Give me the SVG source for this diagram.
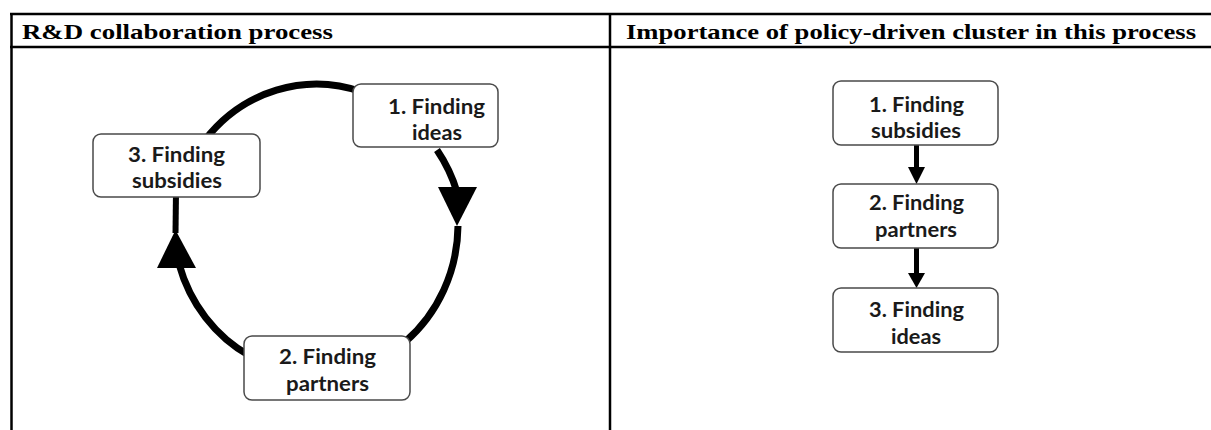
<svg xmlns="http://www.w3.org/2000/svg" width="1211" height="430" viewBox="0 0 1211 430">
<style>
.rule{stroke:#000;stroke-width:2.5;fill:none}
.hdr{font-family:"Liberation Serif","Times New Roman",serif;font-weight:bold;font-size:21.5px;fill:#000}
.box{fill:#fff;stroke:#4a4a4a;stroke-width:1.5}
.lbl{font-family:Lato,"Open Sans",sans-serif;font-weight:bold;font-size:20px;fill:#1a1a1a;text-anchor:middle}
.arc{fill:none;stroke:#000;stroke-width:7}
.stub{stroke:#000;stroke-width:6}
.shaft{stroke:#000;stroke-width:5}
.head{fill:#000}
</style>
<rect width="1211" height="430" fill="#fff"/>
<g id="table">
<line class="rule" x1="10" y1="14" x2="1211" y2="14"/>
<line class="rule" x1="10" y1="47" x2="1211" y2="47"/>
<line class="rule" x1="11.5" y1="13" x2="11.5" y2="430"/>
<line class="rule" x1="610" y1="13" x2="610" y2="430"/>
<text class="hdr" x="22" y="38.5" textLength="311" lengthAdjust="spacingAndGlyphs">R&amp;D collaboration process</text>
<text class="hdr" x="626" y="38.5" textLength="570" lengthAdjust="spacingAndGlyphs">Importance of policy-driven cluster in this process</text>
</g>
<g id="connectors">
<path class="arc" d="M205,140 A144,152 0 0 1 362,92"/>
<path class="arc" d="M437,150 A144,152 0 0 1 457,192"/>
<polygon class="head" points="438,187 477,187 457,226"/>
<path class="arc" d="M458,226 A144,152 0 0 1 405,342"/>
<path class="arc" d="M250,356 A144,152 0 0 1 179,264"/>
<polygon class="head" points="157,268 196,268 175.5,230"/>
<line class="stub" x1="175.5" y1="233" x2="176" y2="192"/>
<line class="shaft" x1="916.5" y1="145" x2="916.5" y2="169"/>
<polygon class="head" points="908,167 925,167 916.5,184"/>
<line class="shaft" x1="916.5" y1="248" x2="916.5" y2="275"/>
<polygon class="head" points="908,273 925,273 916.5,288"/>
</g>
<g id="cycle-ideas">
<rect class="box" x="353" y="84" width="145" height="63" rx="8"/>
<text class="lbl" x="436.5" y="114" textLength="97" lengthAdjust="spacingAndGlyphs">1. Finding</text>
<text class="lbl" x="437" y="140" textLength="50" lengthAdjust="spacingAndGlyphs">ideas</text>
</g>
<g id="cycle-partners">
<rect class="box" x="244" y="336" width="166" height="64" rx="8"/>
<text class="lbl" x="327.5" y="364" textLength="97" lengthAdjust="spacingAndGlyphs">2. Finding</text>
<text class="lbl" x="327.5" y="391" textLength="83" lengthAdjust="spacingAndGlyphs">partners</text>
</g>
<g id="cycle-subsidies">
<rect class="box" x="93" y="134" width="167" height="63" rx="8"/>
<text class="lbl" x="176.5" y="162" textLength="97" lengthAdjust="spacingAndGlyphs">3. Finding</text>
<text class="lbl" x="177" y="188" textLength="90" lengthAdjust="spacingAndGlyphs">subsidies</text>
</g>
<g id="flow-subsidies">
<rect class="box" x="833" y="81" width="165" height="64" rx="8"/>
<text class="lbl" x="916.5" y="112" textLength="95" lengthAdjust="spacingAndGlyphs">1. Finding</text>
<text class="lbl" x="916" y="138" textLength="90" lengthAdjust="spacingAndGlyphs">subsidies</text>
</g>
<g id="flow-partners">
<rect class="box" x="833" y="184" width="165" height="64" rx="8"/>
<text class="lbl" x="916.5" y="210" textLength="95" lengthAdjust="spacingAndGlyphs">2. Finding</text>
<text class="lbl" x="916" y="237" textLength="82" lengthAdjust="spacingAndGlyphs">partners</text>
</g>
<g id="flow-ideas">
<rect class="box" x="833" y="288" width="165" height="64" rx="8"/>
<text class="lbl" x="916.5" y="317" textLength="95" lengthAdjust="spacingAndGlyphs">3. Finding</text>
<text class="lbl" x="916" y="344" textLength="50" lengthAdjust="spacingAndGlyphs">ideas</text>
</g>
</svg>
